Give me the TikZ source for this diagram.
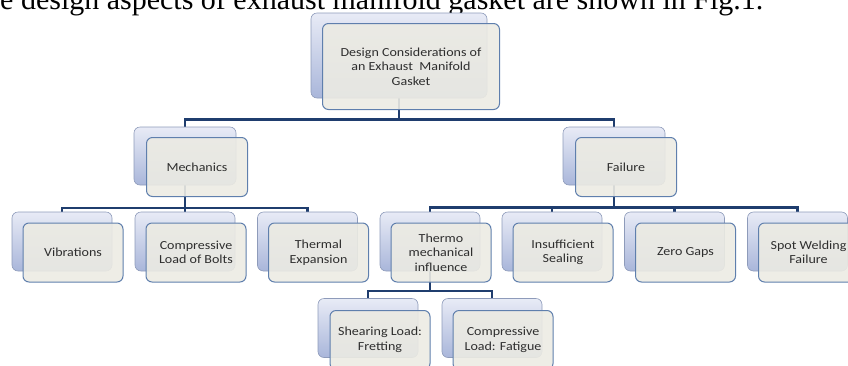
\documentclass[tikz,border=0pt]{standalone}
\usepackage{fontspec}
\setmainfont{Carlito}[FakeStretch=1.14]
\newfontfamily\captionfont{Liberation Serif}
\usetikzlibrary{positioning}

\pgfdeclarelayer{bg}
\pgfsetlayers{bg,main}

\definecolor{backtop}{HTML}{E8EBF6}
\definecolor{backbot}{HTML}{A9B6DA}
\definecolor{backline}{HTML}{8E9BBA}
\definecolor{frontfill}{HTML}{ECEBE3}
\definecolor{frontline}{HTML}{5F7FAD}
\definecolor{connblue}{HTML}{1F3D6E}
\definecolor{textgray}{HTML}{2E2E2E}

\tikzset{
  backbox/.style={draw=backline, line width=0.6pt, rounded corners=6pt,
    top color=backtop, bottom color=backbot,
    minimum width=100pt, minimum height=59pt, inner sep=0pt},
  frontbox/.style={draw=frontline, line width=1pt, rounded corners=6pt,
    fill=frontfill, fill opacity=0.9, text opacity=1, text=textgray,
    minimum width=100pt, minimum height=59pt, inner sep=0pt,
    font=\fontsize{12.3}{14.5}\selectfont, align=center},
  conn/.style={draw=connblue, line width=2.3pt},
}

\begin{document}
\begin{tikzpicture}[x=1pt,y=-1pt]
\useasboundingbox (0,0) rectangle (848,365);
\clip (0,0) rectangle (848,365);

% text line above the figure
\node[font=\captionfont\fontsize{30}{31}\selectfont, anchor=base west, inner sep=0pt] (caption) at (0,9) {e design aspects of exhaust manifold gasket are shown in Fig.1.};

% top
\node[backbox, minimum width=176pt, minimum height=85pt] (topb) at (399,55.5) {};
\node[frontbox, minimum width=177pt, minimum height=86pt] (top) at ([shift={(12,11)}]topb) {Design Considerations of\\an Exhaust~ Manifold\\Gasket};

% second row
\node[backbox, minimum width=102pt, minimum height=58pt] (mechb) at (185,156) {};
\node[frontbox, minimum width=101pt] (mech) at ([shift={(12,11)}]mechb) {Mechanics};
\node[backbox, minimum width=102pt, minimum height=58pt] (failb) at (614,156) {};
\node[frontbox, minimum width=101pt] (fail) at ([shift={(12,11)}]failb) {Failure};

% third row
\node[backbox] (vibb) at (62,241.5) {};
\node[frontbox] (vib) at ([shift={(11,11)}]vibb) {Vibrations};
\node[backbox] (compb) at (185,241.5) {};
\node[frontbox] (comp) at ([shift={(11,11)}]compb) {Compressive\\Load of Bolts};
\node[backbox] (thermb) at (307.5,241.5) {};
\node[frontbox] (therm) at ([shift={(11,11)}]thermb) {Thermal\\Expansion};
\node[backbox] (tmb) at (430,241.5) {};
\node[frontbox] (tm) at ([shift={(11,11)}]tmb) {Thermo\\mechanical\\influence};
\node[backbox] (insb) at (552,241.5) {};
\node[frontbox] (ins) at ([shift={(11,11)}]insb) {Insufficient\\Sealing};
\node[backbox] (zerob) at (674.5,241.5) {};
\node[frontbox] (zero) at ([shift={(11,11)}]zerob) {Zero Gaps};
\node[backbox] (spotb) at (797.5,241.5) {};
\node[frontbox] (spot) at ([shift={(11,11)}]spotb) {Spot Welding\\Failure};

% fourth row
\node[backbox] (shearb) at (368,328) {};
\node[frontbox] (shear) at ([shift={(12,12)}]shearb) {Shearing Load:\\Fretting};
\node[backbox] (fatb) at (492,328) {};
\node[frontbox] (fat) at ([shift={(11,12)}]fatb) {Compressive\\Load: Fatigue};

% connectors
\begin{pgfonlayer}{bg}
\coordinate (bar0) at (399,119.5);
\coordinate (bar1) at (185,208);
\coordinate (bar2) at (614,207.5);
\coordinate (bar3) at (430,291);
\draw[conn] (topb.south) -- (bar0) -| (mechb.north);
\draw[conn] (bar0) -| (failb.north);
\draw[conn] (mechb.south) -- (bar1);
\foreach \n in {vibb,compb,thermb}
  \draw[conn] (bar1) -| (\n.north);
\draw[conn] (failb.south) -- (bar2);
\foreach \n in {tmb,insb,zerob,spotb}
  \draw[conn] (bar2) -| (\n.north);
\draw[conn] (tmb.south) -- (bar3);
\foreach \n in {shearb,fatb}
  \draw[conn] (bar3) -| (\n.north);
\end{pgfonlayer}
\end{tikzpicture}
\end{document}
